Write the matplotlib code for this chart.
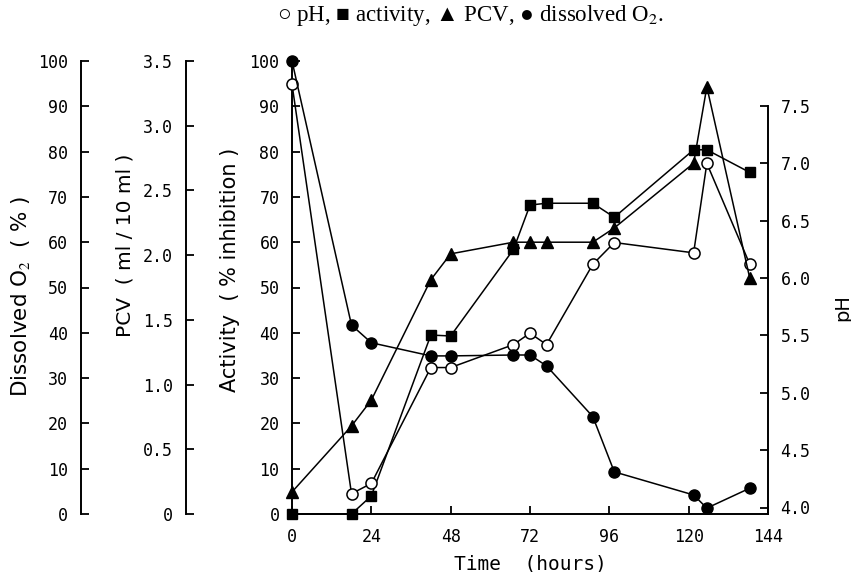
import matplotlib
matplotlib.use("Agg")
import matplotlib.pyplot as plt
from matplotlib.ticker import FixedLocator, FixedFormatter
from matplotlib.font_manager import FontProperties

# ---- data ----
time_h = [0, 18, 24, 42, 48, 67, 72, 77, 91, 97.5, 121.5, 125.5, 138.5]
ph = [7.69, 4.12, 4.21, 5.22, 5.22, 5.42, 5.52, 5.42, 6.12, 6.31, 6.22, 7.00, 6.12]
activity = [0, 0, 4.0, 39.5, 39.3, 58.4, 68.2, 68.6, 68.6, 65.5, 80.4, 80.4, 75.4]
pcv = [0.17, 0.68, 0.88, 1.81, 2.01, 2.10, 2.10, 2.10, 2.10, 2.21, 2.71, 3.30, 1.82]
dissolved_o2 = [100, 41.7, 37.8, 34.9, 34.9, 35.1, 35.1, 32.7, 21.5, 9.3, 4.2, 1.3, 5.7]

x_ticks = [0, 24, 48, 72, 96, 120, 144]
act_ticks = [0, 10, 20, 30, 40, 50, 60, 70, 80, 90, 100]
pcv_ticks = [0, 0.5, 1.0, 1.5, 2.0, 2.5, 3.0, 3.5]
pcv_labels = ["0", "0.5", "1.0", "1.5", "2.0", "2.5", "3.0", "3.5"]
o2_ticks = [0, 10, 20, 30, 40, 50, 60, 70, 80, 90, 100]
ph_ticks = [4.0, 4.5, 5.0, 5.5, 6.0, 6.5, 7.0, 7.5]
ph_labels = ["4.0", "4.5", "5.0", "5.5", "6.0", "6.5", "7.0", "7.5"]

plt.rcParams["mathtext.fontset"] = "stix"

W, H = 851, 572
fig = plt.figure(figsize=(W / 100, H / 100), dpi=100)

x0, x1 = 292, 768
y0, y1 = 514, 61
ax = fig.add_axes([x0 / W, 1 - y0 / H, (x1 - x0) / W, (y0 - y1) / H])

tick_fp = FontProperties(family="DejaVu Sans Mono", size=12)
lw_sp = 1.4
line_kw = dict(color="black", lw=1.1, clip_on=False)


def style_axis(a):
    for s in a.spines.values():
        s.set_linewidth(lw_sp)
    a.tick_params(direction="in", length=6, width=1.3, pad=9)
    a.patch.set_visible(False)


def set_tick_font(labels):
    for t in labels:
        t.set_fontproperties(tick_fp)


style_axis(ax)
ax.spines["top"].set_visible(False)
ax.spines["right"].set_visible(False)
ax.set_xlim(0, 144)
ax.set_ylim(0, 100)
ax.xaxis.set_major_locator(FixedLocator(x_ticks))
ax.yaxis.set_major_locator(FixedLocator(act_ticks))
ax.tick_params(axis="x", pad=10)
set_tick_font(ax.get_xticklabels() + ax.get_yticklabels())
ax.set_xlabel("Time  (hours)", fontdict=dict(family="DejaVu Sans Mono", size=14), labelpad=6)
ax.set_ylabel("Activity  ( % inhibition )", fontdict=dict(family="DejaVu Sans", size=15))
ax.yaxis.set_label_coords((240 - x0) / (x1 - x0), (y0 - 270) / (y0 - y1))

# pH axis (right)
ph_lo = 4.0 - (y0 - 507.5) / 114.71
ph_hi = 4.0 + (507.5 - y1) / 114.71
axp = ax.twinx()
style_axis(axp)
for k in ["top", "left", "bottom"]:
    axp.spines[k].set_visible(False)
axp.set_ylim(ph_lo, ph_hi)
axp.spines["right"].set_bounds(ph_lo, 7.5)
axp.yaxis.set_major_locator(FixedLocator(ph_ticks))
axp.yaxis.set_major_formatter(FixedFormatter(ph_labels))
set_tick_font(axp.get_yticklabels())
axp.set_ylabel("pH", fontdict=dict(family="DejaVu Sans", size=14))
axp.yaxis.set_label_coords((833 - x0) / (x1 - x0), (y0 - 308) / (y0 - y1))

# PCV axis (left, offset)
axc = ax.twinx()
style_axis(axc)
for k in ["top", "right", "bottom"]:
    axc.spines[k].set_visible(False)
axc.yaxis.set_label_position("left")
axc.yaxis.set_ticks_position("left")
axc.spines["left"].set_visible(True)
axc.spines["left"].set_position(("axes", (185.5 - x0) / (x1 - x0)))
axc.set_ylim(0, 3.5)
axc.yaxis.set_major_locator(FixedLocator(pcv_ticks))
axc.yaxis.set_major_formatter(FixedFormatter(pcv_labels))
set_tick_font(axc.get_yticklabels())
axc.set_ylabel("PCV  ( ml / 10 ml )", fontdict=dict(family="DejaVu Sans", size=14.5))
axc.yaxis.set_label_coords((134 - x0) / (x1 - x0), (y0 - 245) / (y0 - y1))

# Dissolved O2 axis (left, offset further)
axo = ax.twinx()
style_axis(axo)
for k in ["top", "right", "bottom"]:
    axo.spines[k].set_visible(False)
axo.yaxis.set_label_position("left")
axo.yaxis.set_ticks_position("left")
axo.spines["left"].set_visible(True)
axo.spines["left"].set_position(("axes", (80.5 - x0) / (x1 - x0)))
axo.set_ylim(0, 100)
axo.yaxis.set_major_locator(FixedLocator(o2_ticks))
set_tick_font(axo.get_yticklabels())
axo.set_ylabel("Dissolved O$_2$  ( % )", fontdict=dict(family="DejaVu Sans", size=15.5))
axo.yaxis.set_label_coords((32 - x0) / (x1 - x0), (y0 - 297) / (y0 - y1))

# ---- series ----
axo.plot(time_h, dissolved_o2, marker="o", ms=8, mfc="black", mec="black", **line_kw)
axc.plot(time_h, pcv, marker="^", ms=8, mfc="black", mec="black", **line_kw)
ax.plot(time_h, activity, marker="s", ms=7, mfc="black", mec="black", zorder=3, **line_kw)
axp.plot(time_h, ph, marker="o", ms=8, mfc="white", mec="black", mew=1.1, **line_kw)

fig.text(470 / W, 1 - 16 / H, "○ pH, ■ activity, ▲ PCV, ● dissolved O$_2$.",
         ha="center", va="center", fontsize=16.5,
         family=["Liberation Serif", "DejaVu Serif"])

fig.savefig("out.png", dpi=100)
